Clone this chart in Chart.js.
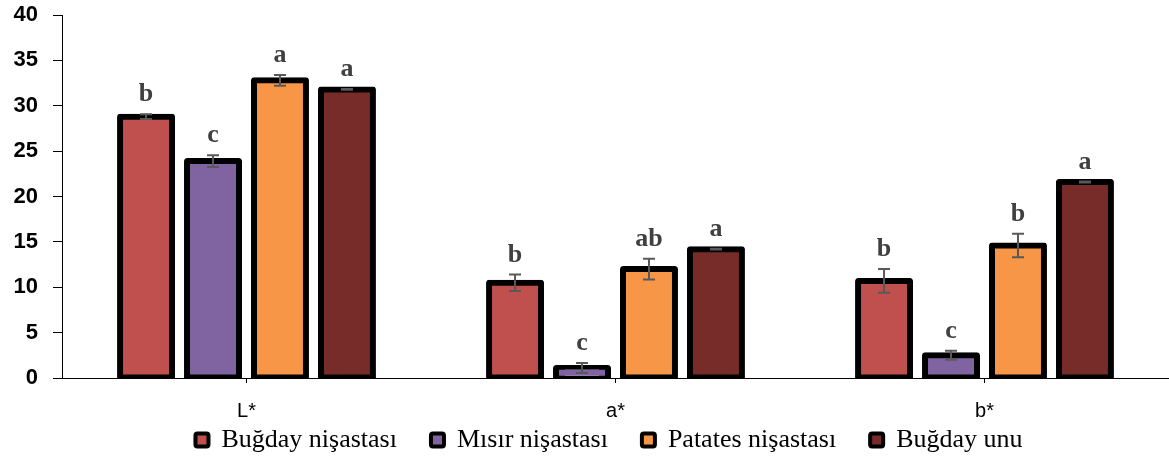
<!DOCTYPE html>
<html>
<head>
<meta charset="utf-8">
<script src="https://cdn.jsdelivr.net/npm/chart.js@4"></script>
<style>
  body { margin: 0; background: #fff; }
  #wrap { width: 1169px; height: 461px; }
</style>
</head>
<body>
<div id="wrap"><canvas id="myChart"></canvas></div>
<script>
const categories = ['L*', 'a*', 'b*'];
const seriesNames = ['Buğday nişastası', 'Mısır nişastası', 'Patates nişastası', 'Buğday unu'];

const bugdayNisasta = [28.8, 10.5, 10.7];
const misirNisasta = [23.9, 1.1, 2.5];
const patatesNisasta = [32.8, 12.0, 14.6];
const bugdayUnu = [31.8, 14.2, 21.6];

const bugdayNisastaErr = [0.25, 0.9, 1.3];
const misirNisastaErr = [0.65, 0.55, 0.5];
const patatesNisastaErr = [0.6, 1.15, 1.3];
const bugdayUnuErr = [0.05, 0.05, 0.05];

const bugdayNisastaHarf = ['b', 'b', 'b'];
const misirNisastaHarf = ['c', 'c', 'c'];
const patatesNisastaHarf = ['a', 'ab', 'b'];
const bugdayUnuHarf = ['a', 'a', 'a'];

const yTicks = [0, 5, 10, 15, 20, 25, 30, 35, 40];

const renkler = ['#C0504D', '#8064A2', '#F79646', '#772C2A'];

// error bars + significance letters
const errorBars = {
    id: 'errorBars',
    afterDatasetsDraw(chart) {
        const ctx = chart.ctx;
        const yScale = chart.scales.y;
        chart.data.datasets.forEach((ds, di) => {
            const meta = chart.getDatasetMeta(di);
            meta.data.forEach((bar, i) => {
                const v = ds.data[i], e = ds.errors[i];
                const yTop = yScale.getPixelForValue(v + e);
                const yBot = yScale.getPixelForValue(v - e);
                ctx.save();
                ctx.strokeStyle = '#595959';
                ctx.lineWidth = 2;
                ctx.beginPath();
                ctx.moveTo(bar.x, yTop);
                ctx.lineTo(bar.x, yBot);
                ctx.moveTo(bar.x - 6, yTop);
                ctx.lineTo(bar.x + 6, yTop);
                ctx.moveTo(bar.x - 6, yBot);
                ctx.lineTo(bar.x + 6, yBot);
                ctx.stroke();
                ctx.fillStyle = '#404040';
                ctx.font = 'bold 26px "Liberation Serif"';
                ctx.textAlign = 'center';
                ctx.textBaseline = 'alphabetic';
                ctx.fillText(ds.letters[i], bar.x, yTop - 13);
                ctx.restore();
            });
        });
    }
};

const values = [bugdayNisasta, misirNisasta, patatesNisasta, bugdayUnu];
const errs = [bugdayNisastaErr, misirNisastaErr, patatesNisastaErr, bugdayUnuErr];
const harfler = [bugdayNisastaHarf, misirNisastaHarf, patatesNisastaHarf, bugdayUnuHarf];

const datasets = seriesNames.map((name, i) => ({
    label: name,
    data: values[i],
    errors: errs[i],
    letters: harfler[i],
    backgroundColor: renkler[i],
    borderColor: '#000',
    borderWidth: 6,
    borderSkipped: false,
    borderRadius: 3,
    inflateAmount: 3,
    barPercentage: 0.776,
    categoryPercentage: 0.726
}));

let ctx = document.getElementById('myChart').getContext('2d');
let myChart = new Chart(ctx, {
    type: 'bar',
    data: {
        labels: categories,
        datasets: datasets
    },
    options: {
        responsive: true,
        maintainAspectRatio: false,
        animation: false,
        layout: {
            padding: { top: 15, right: 0, left: 0, bottom: -2 }
        },
        scales: {
            x: {
                grid: {
                    offset: false,
                    drawOnChartArea: false,
                    tickLength: 5,
                    tickColor: '#000'
                },
                border: { color: '#000', width: 1 },
                ticks: {
                    color: '#000',
                    padding: 16,
                    font: { family: '"Liberation Sans", Arial', size: 20 }
                },
                afterFit(scale) {
                    scale.height = 41;
                    scale.paddingLeft = 0;
                    scale.paddingRight = 0;
                }
            },
            y: {
                min: 0,
                max: 40,
                afterBuildTicks(scale) {
                    scale.ticks = yTicks.map(v => ({ value: v }));
                },
                grid: {
                    drawOnChartArea: false,
                    tickLength: 9,
                    tickColor: '#000'
                },
                border: { color: '#000', width: 1 },
                ticks: {
                    color: '#000',
                    padding: 15,
                    font: { family: '"Liberation Sans", Arial', size: 22, weight: 'bold' }
                },
                afterFit(scale) {
                    scale.width = 62;
                    scale.paddingTop = 0;
                    scale.paddingBottom = 0;
                }
            }
        },
        plugins: {
            legend: {
                position: 'bottom',
                fullSize: false,
                labels: {
                    color: '#000',
                    font: { family: '"Liberation Serif", "Times New Roman"', size: 26 },
                    boxWidth: 13,
                    boxHeight: 13,
                    padding: 8,
                    useBorderRadius: true,
                    borderRadius: 2,
                    generateLabels(chart) {
                        const items = Chart.defaults.plugins.legend.labels.generateLabels(chart);
                        items.forEach((it, i) => {
                            it.lineWidth = 4;
                            it.strokeStyle = '#000';
                            // extra gap between legend entries
                            it.text = it.text + (i < items.length - 1 ? '    ' : '  ');
                        });
                        return items;
                    }
                }
            },
            tooltip: { enabled: false }
        }
    },
    plugins: [errorBars]
});
</script>
</body>
</html>
